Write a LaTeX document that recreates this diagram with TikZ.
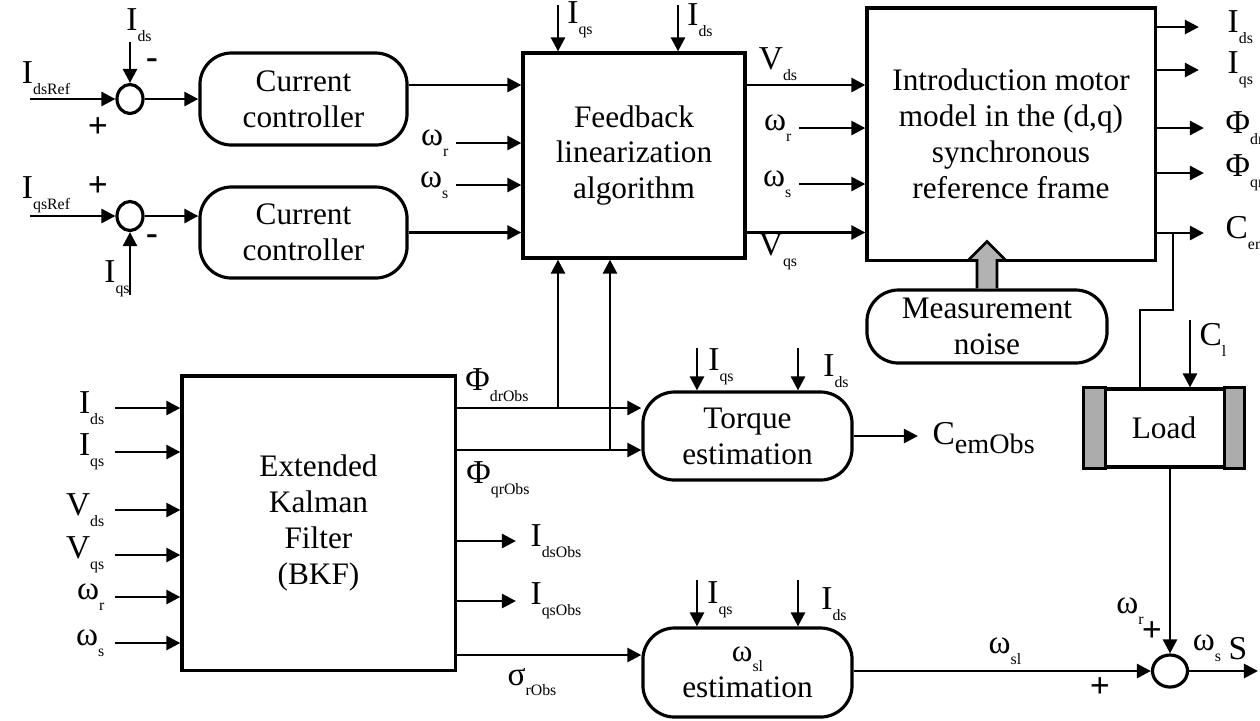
\documentclass[tikz,border=0pt]{standalone}
\usepackage{fontspec}
\setmainfont{Liberation Serif}
\usetikzlibrary{arrows.meta,shapes.geometric}

% small lowered subscript as in the figure
\newcommand{\lsub}[1]{\raisebox{-0.7ex}{\fontsize{4.5}{5}\selectfont #1}}

\tikzset{
	block/.style={draw, line width=0.9pt, align=center, inner sep=0pt, font=\fontsize{8.9}{10.2}\selectfont},
	rblock/.style={block, rounded corners=9pt},
	sumj/.style={draw, ellipse, line width=0.9pt, inner sep=0pt},
	wire/.style={line width=0.75pt},
	sig/.style={wire, -{Triangle[length=4pt,width=4pt]}},
	sigl/.style={sig, shorten <=2pt},
	lbl/.style={inner sep=0pt, font=\fontsize{9.5}{10}\selectfont},
	sgn/.style={inner sep=0pt, font=\fontsize{10}{10}\selectfont\bfseries}
}

\begin{document}
\begin{tikzpicture}[x=0.01cm, y=-0.01cm]
	\useasboundingbox (0,0) rectangle (1260,720);
	
	% Blocks
	\node[rblock, minimum width=2.07cm, minimum height=0.92cm] (cc1) at (303.5,99) {Current\\controller};
	\node[rblock, minimum width=2.07cm, minimum height=0.91cm] (cc2) at (303.5,232.5) {Current\\controller};
	\node[block, minimum width=2.22cm, minimum height=2.05cm] (fb) at (634,155.5) {Feedback\\linearization\\algorithm};
	\node[block, minimum width=2.88cm, minimum height=2.52cm] (mot) at (1011,134) {Introduction motor\\model in the (d,q)\\synchronous\\reference frame};
	\node[rblock, minimum width=2.40cm, minimum height=0.73cm] (noise) at (987,326.5) {Measurement\\noise};
	\node[block, minimum width=2.73cm, minimum height=2.94cm] (ekf) at (318.5,523) {Extended\\Kalman\\Filter\\(BKF)};
	\node[rblock, minimum width=2.09cm, minimum height=0.88cm] (torque) at (747.5,436) {Torque\\estimation};
	\node[rblock, minimum width=2.09cm, minimum height=0.89cm] (wsl) at (747.5,672.5) {ω\lsub{sl}\\estimation};
	
	% Load with its gray sides
	\node[block, minimum width=1.58cm, minimum height=0.78cm] (load) at (1164,428) {Load};
	\filldraw[fill=gray!65, line width=0.9pt] (load.north west) rectangle ([xshift=0.22cm]load.south west);
	\filldraw[fill=gray!65, line width=0.9pt] (load.north east) rectangle ([xshift=-0.2cm]load.south east);
	
	% Summing junctions
	\node[sumj, minimum width=0.26cm, minimum height=0.29cm] (sum1) at (130,99) {};
	\node[sumj, minimum width=0.26cm, minimum height=0.29cm] (sum2) at (130,216) {};
	\node[sumj, minimum width=0.35cm, minimum height=0.32cm] (sum3) at (1170,671) {};
	
	% Reference inputs
	\coordinate (dref) at (30,99);
	\coordinate (qref) at (30,216);
	\coordinate (ids1) at (130,42);
	\coordinate (iqs1) at (130,295);
	\draw[sig] (dref) -- (sum1.west);
	\draw[sig] (qref) -- (sum2.west);
	\draw[sig] (ids1) -- (sum1.north);
	\draw[sig] (iqs1) -- (sum2.south);
	\node[lbl] (ldref) at (46,78) {I\lsub{dsRef}};
	\node[lbl] (lqref) at (46,195) {I\lsub{qsRef}};
	\node[lbl] (lids1) at (139,25) {I\lsub{ds}};
	\node[lbl] (liqs1) at (117,279) {I\lsub{qs}};
	\node[sgn] at (98,128) {+};
	\node[sgn] at (152,64) {-};
	\node[sgn] at (98,187) {+};
	\node[sgn] at (152,240) {-};
	
	% Controllers
	\draw[sig] (sum1.east) -- (cc1.west);
	\draw[sig] (sum2.east) -- (sum2.east -| cc2.west);
	\coordinate (cc1o) at ([yshift=0.14cm]cc1.east);
	\draw[sig] (cc1o) -- (cc1o -| fb.west);
	\draw[sig] (cc2.east) -- (cc2.east -| fb.west);
	
	% Feedback linearization inputs
	\node[lbl, anchor=east] (wr1) at (449,143) {ω\lsub{r}};
	\node[lbl, anchor=east] (ws1) at (449,185) {ω\lsub{s}};
	\draw[sigl] (wr1.east) -- (wr1.east -| fb.west);
	\draw[sigl] (ws1.east) -- (ws1.east -| fb.west);
	\coordinate (fbq) at (558,5);
	\coordinate (fbd) at (678,5);
	\draw[sig] (fbq) -- (fbq |- fb.north);
	\draw[sig] (fbd) -- (fbd |- fb.north);
	\node[lbl] (liqs2) at (580,20) {I\lsub{qs}};
	\node[lbl] (lids2) at (700,20) {I\lsub{ds}};
	
	% Feedback linearization outputs
	\draw[sig] (cc1o -| fb.east) -- (cc1o -| mot.west);
	\draw[sig] (cc2.east -| fb.east) -- (cc2.east -| mot.west);
	\node[lbl] (lvds) at (778,64) {V\lsub{ds}};
	\node[lbl] (lvqs) at (778,252) {V\lsub{qs}};
	\node[lbl, anchor=east] (wr2) at (792,128) {ω\lsub{r}};
	\node[lbl, anchor=east] (ws2) at (792,184) {ω\lsub{s}};
	\draw[sigl] (wr2.east) -- (wr2.east -| mot.west);
	\draw[sigl] (ws2.east) -- (ws2.east -| mot.west);
	
	% Motor outputs
	\node[lbl, anchor=west] (ids3) at (1227,27) {I\lsub{ds}};
	\node[lbl, anchor=west] (iqs3) at (1227,70) {I\lsub{qs}};
	\node[lbl, anchor=west] (phd3) at (1225,128) {Φ\lsub{dr}};
	\node[lbl, anchor=west] (phq3) at (1225,173) {Φ\lsub{qr}};
	\node[lbl, anchor=west] (cem3) at (1225,233) {C\lsub{em}};
	\draw[sig, shorten >=8pt] (ids3.west -| mot.east) -- (ids3.west);
	\draw[sig, shorten >=8pt] (iqs3.west -| mot.east) -- (iqs3.west);
	\draw[sig, shorten >=6pt] (phd3.west -| mot.east) -- (phd3.west);
	\draw[sig, shorten >=6pt] (phq3.west -| mot.east) -- (phq3.west);
	\draw[sig, shorten >=6pt] (cem3.west -| mot.east) -- (cem3.west);
	
	% Measurement noise
	\filldraw[fill=gray!60, line width=0.75pt] ([xshift=-0.1cm]noise.north) -- ++(0,-28) -- ++(-9,0) -- ++(19,-19) -- ++(19,19) -- ++(-9,0) -- ++(0,28);
	
	% Torque to load
	\coordinate (cemb) at (1173,233);
	\coordinate (cemk) at (1140,310);
	\draw[wire] (cemb) |- (cemk) -- (cemk |- load.north);
	\coordinate (clin) at (1190,320);
	\draw[sig] (clin) -- (clin |- load.north);
	\node[lbl] (lcl) at (1213,340) {C\lsub{l}};
	\draw[sig] (load.south -| sum3.north) -- (sum3.north);
	
	% Extended Kalman filter inputs
	\foreach \yy/\txt in {408/I\lsub{ds}, 452/I\lsub{qs}, 510/V\lsub{ds}, 555/V\lsub{qs}, 597/ω\lsub{r}, 643/ω\lsub{s}}{
		\node[lbl, anchor=east] (ekfin) at (105,\yy) {\txt};
		\draw[sig] (115,\yy) -- (ekfin -| ekf.west);
	}
	
	% Extended Kalman filter outputs
	\coordinate (fbb1) at (558,408);
	\coordinate (fbb2) at (610,450);
	\draw[sig] (ekf.east |- fbb1) -- (torque.west |- fbb1);
	\draw[sig] (fbb1) -- (fbb1 |- fb.south);
	\draw[sig] (ekf.east |- fbb2) -- (torque.west |- fbb2);
	\draw[sig] (fbb2) -- (fbb2 |- fb.south);
	\node[lbl] (lphd) at (497,385) {Φ\lsub{drObs}};
	\node[lbl] (lphq) at (498,480) {Φ\lsub{qrObs}};
	\node[lbl, anchor=west] (ldso) at (530,541) {I\lsub{dsObs}};
	\node[lbl, anchor=west] (lqso) at (530,601) {I\lsub{qsObs}};
	\draw[sig, shorten >=4pt] (ldso.west -| ekf.east) -- (ldso.west);
	\draw[sig, shorten >=4pt] (lqso.west -| ekf.east) -- (lqso.west);
	\coordinate (sgo) at (600,655);
	\draw[sig] (ekf.east |- sgo) -- (wsl.west |- sgo);
	\node[lbl] (lsg) at (532,682) {σ\lsub{rObs}};
	
	% Torque estimation
	\coordinate (tq) at (697,348);
	\coordinate (td) at (798,348);
	\draw[sig] (tq) -- (tq |- torque.north);
	\draw[sig] (td) -- (td |- torque.north);
	\node[lbl] (ltq) at (721,367) {I\lsub{qs}};
	\node[lbl] (ltd) at (836,371) {I\lsub{ds}};
	\node[lbl, anchor=west] (cemo) at (932,438) {C\raisebox{-0.6ex}{\fontsize{8}{8}\selectfont emObs}};
	\draw[sig, shorten >=4pt] (torque.east) -- (cemo.west |- torque.east);
	
	% Slip speed estimation
	\coordinate (sq) at (697,580);
	\coordinate (sd) at (798,580);
	\draw[sig] (sq) -- (sq |- wsl.north);
	\draw[sig] (sd) -- (sd |- wsl.north);
	\node[lbl] (lsq) at (720,600) {I\lsub{qs}};
	\node[lbl] (lsd) at (834,604) {I\lsub{ds}};
	\draw[sig] (wsl.east |- sum3.west) -- (sum3.west);
	\node[lbl] (lwsl) at (1005,651) {ω\lsub{sl}};
	\node[sgn] at (1100,688) {+};
	
	% Stator speed
	\coordinate (wsout) at (1258,671);
	\draw[sig] (sum3.east) -- (wsout);
	\node[lbl] (lwr3) at (1130,611) {ω\lsub{r}};
	\node[sgn] at (1152,632) {+};
	\node[lbl] (lws3) at (1207,648) {ω\lsub{s}};
	\node[lbl] (ls3) at (1238,649) {S};
\end{tikzpicture}
\end{document}
